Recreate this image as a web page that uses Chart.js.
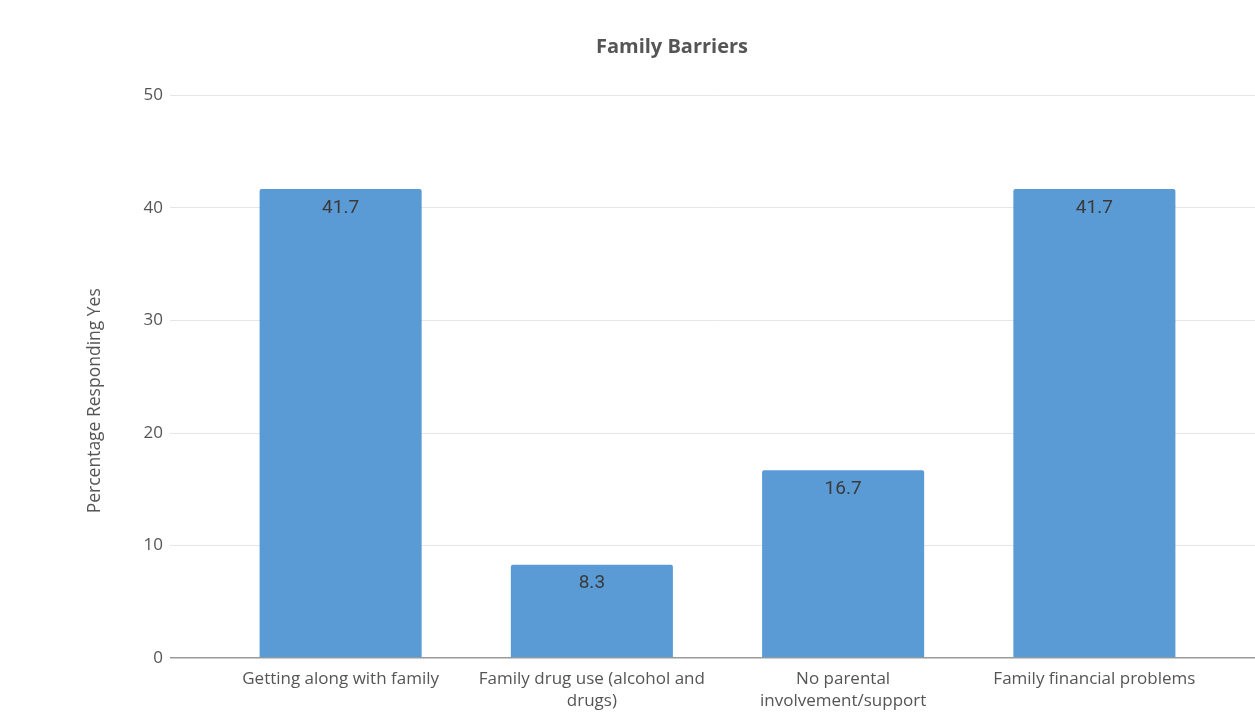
<!DOCTYPE html>
<html>
<head>
<meta charset="utf-8">
<title>Family Barriers</title>
<script src="https://cdn.jsdelivr.net/npm/chart.js@4/dist/chart.umd.min.js"></script>
<style>
  html, body { margin: 0; padding: 0; background: #fff; overflow: hidden; }
  #wrap { position: relative; width: 1344px; height: 718px; }
</style>
</head>
<body>
<div id="wrap"><canvas id="barrierChart"></canvas></div>
<script>
// Survey results: share of students answering "yes" to each family barrier
var categories = [
    ['Getting along with family'],
    ['Family drug use (alcohol and', 'drugs)'],
    ['No parental', 'involvement/support'],
    ['Family financial problems']
];
var percentYes = [41.7, 8.3, 16.7, 41.7];
var yTicks = [0, 10, 20, 30, 40, 50];

var fontFamily = '"Open Sans", "Noto Sans", sans-serif';

function gridColor(ctx) {
    return ctx.tick && ctx.tick.value === 0 ? '#9a9a9a' : '#e6e6e6';
}

function gridWidth(ctx) {
    return ctx.tick && ctx.tick.value === 0 ? 1.5 : 1;
}

// writes the value just inside the top of each bar
var barValues = {
    id: 'barValues',
    afterDatasetsDraw: function (chart) {
        var ctx = chart.ctx;
        var meta = chart.getDatasetMeta(0);
        ctx.save();
        ctx.font = '19px Roboto, "Open Sans", sans-serif';
        ctx.fillStyle = '#3a3a3a';
        ctx.textAlign = 'center';
        ctx.textBaseline = 'middle';
        meta.data.forEach(function (bar, i) {
            ctx.fillText(percentYes[i].toFixed(1), bar.x, bar.y + 19);
        });
        ctx.restore();
    }
};

// rotated y title, centred over plot plus category labels
var yTitle = {
    id: 'yTitle',
    afterDraw: function (chart) {
        var ctx = chart.ctx;
        var area = chart.chartArea;
        var cy = (area.top + chart.scales.x.bottom) / 2 - 6;
        ctx.save();
        ctx.translate(area.left - 120, cy);
        ctx.rotate(-Math.PI / 2);
        ctx.font = '17.5px ' + fontFamily;
        ctx.fillStyle = '#555';
        ctx.textAlign = 'center';
        ctx.textBaseline = 'middle';
        ctx.fillText('Percentage Responding Yes', 0, 0);
        ctx.restore();
    }
};

new Chart(document.getElementById('barrierChart').getContext('2d'), {
    type: 'bar',
    data: {
        labels: categories,
        datasets: [{
            label: 'Percentage Responding Yes',
            data: percentYes,
            backgroundColor: '#5b9bd5',
            borderRadius: 2,
            categoryPercentage: 1,
            barPercentage: 0.645
        }]
    },
    options: {
        responsive: true,
        maintainAspectRatio: false,
        animation: false,
        layout: { padding: 0 },
        plugins: {
            legend: { display: false },
            tooltip: { enabled: false },
            title: {
                display: true,
                text: 'Family Barriers',
                color: '#555',
                font: { family: fontFamily, size: 20, weight: 'bold' },
                padding: { top: 35, bottom: 36.5 }
            }
        },
        scales: {
            x: {
                grid: { display: false, drawTicks: false },
                border: { display: false },
                ticks: {
                    color: '#555',
                    padding: 10,
                    maxRotation: 0,
                    autoSkip: false,
                    font: { family: fontFamily, size: 17, lineHeight: 1.3 }
                },
                afterFit: function (s) { s.height = 60; }
            },
            y: {
                min: 0,
                max: 50,
                afterBuildTicks: function (s) {
                    s.ticks = yTicks.map(function (v) { return { value: v }; });
                },
                border: { display: false },
                grid: {
                    color: gridColor,
                    lineWidth: gridWidth,
                    tickLength: 45
                },
                ticks: {
                    color: '#555',
                    padding: 7,
                    font: { family: fontFamily, size: 17 }
                },
                afterFit: function (s) { s.width = 215; }
            },
            yRight: {
                position: 'right',
                min: 0,
                max: 50,
                afterBuildTicks: function (s) {
                    s.ticks = yTicks.map(function (v) { return { value: v }; });
                },
                border: { display: false },
                grid: {
                    drawOnChartArea: false,
                    color: gridColor,
                    lineWidth: gridWidth,
                    tickLength: 124
                },
                ticks: { display: false },
                afterFit: function (s) { s.width = 124; }
            }
        }
    },
    plugins: [barValues, yTitle]
});
</script>
</body>
</html>
